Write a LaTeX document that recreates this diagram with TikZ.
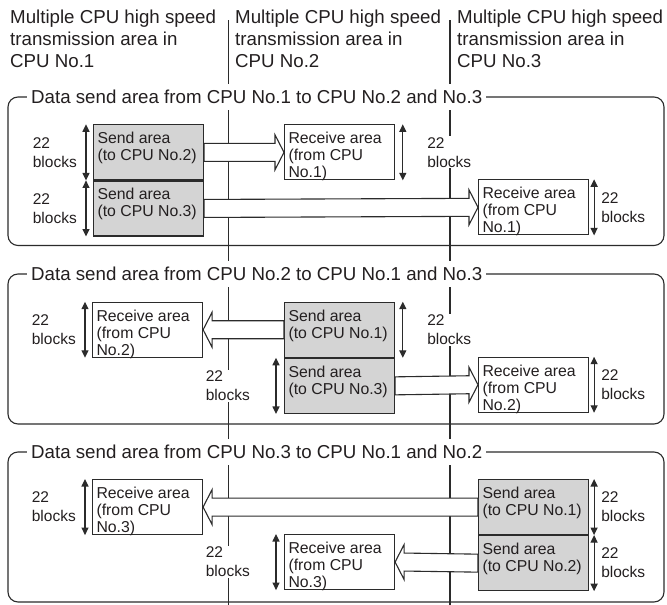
\documentclass[tikz,border=0pt]{standalone}
\usepackage{fontspec}
\setmainfont{Liberation Sans}
\usetikzlibrary{arrows.meta, positioning, calc}
\definecolor{lineDark}{HTML}{2B2B2B}
\definecolor{sendGray}{HTML}{D4D4D4}
\definecolor{textDark}{HTML}{231F20}
\newcommand{\areaText}[1]{\parbox[c][55pt][t]{102pt}{\raggedright\rule{0pt}{19pt}#1}}
\newcommand{\spanL}[2][7pt]{\draw[arrowSpan] ([xshift=-#1]#2.north west) -- ([xshift=-#1]#2.south west);}
\newcommand{\spanR}[2][5pt]{\draw[arrowSpan] ([xshift=#1]#2.north east) -- ([xshift=#1]#2.south east);}
% block arrow: from, to, head back offset (-9 right, 9 left)
\newcommand{\blockArrow}[3]{\draw[arrowBlock] ($(#1)+(0,9)$) -- ($(#2)+(#3,9)$)
  -- ($(#2)+(#3,17.5)$) -- (#2) -- ($(#2)+(#3,-17.5)$) -- ($(#2)+(#3,-9)$)
  -- ($(#1)+(0,-9)$) -- cycle;}
\tikzset{
  divLine/.style={lineDark, line width=1.2pt},
  groupFrame/.style={lineDark, line width=1.1pt, rounded corners=10pt},
  groupTitle/.style={fill=white, anchor=base west, inner xsep=4pt, inner ysep=6pt,
                     font=\fontsize{18.7}{21.7}\selectfont},
  headText/.style={anchor=north west, align=left, inner sep=0pt,
                   font=\fontsize{18.7}{21.7}\selectfont},
  boxSend/.style={rectangle, draw=lineDark, fill=sendGray, line width=1.1pt,
                  inner xsep=4pt, inner ysep=0pt, minimum width=110pt,
                  minimum height=55pt, anchor=north west,
                  font=\fontsize{15.8}{17}\selectfont},
  boxRecv/.style={boxSend, fill=white},
  arrowBlock/.style={draw=lineDark, fill=white, line width=1.1pt, line join=miter},
  arrowSpan/.style={{Triangle[length=7.5pt,width=7pt]}-{Triangle[length=7.5pt,width=7pt]},
                    lineDark, line width=1.2pt},
  blockLabel/.style={align=left, fill=white, inner sep=1pt,
                     font=\fontsize{15.5}{19}\selectfont},
}
\begin{document}
\begin{tikzpicture}[x=1pt, y=-1pt, text=textDark]
  \useasboundingbox (0,0) rectangle (667,605);
  % dividers between CPUs
  \draw[divLine] (228.5,20) -- (228.5,605);
  \draw[divLine] (450,20) -- (450,605);
  \node[headText] (hd1) at (10,10) {Multiple CPU high speed\\transmission area in\\CPU No.1};
  \node[headText] (hd2) at (235,10) {Multiple CPU high speed\\transmission area in\\CPU No.2};
  \node[headText] (hd3) at (457,10) {Multiple CPU high speed\\transmission area in\\CPU No.3};

  % group frames
  \draw[groupFrame] (8,97) rectangle (664,245.5);
  \draw[groupFrame] (8,274) rectangle (664,424);
  \draw[groupFrame] (8,452) rectangle (664,602);
  \node[groupTitle] (gt1) at (27,103.7) {Data send area from CPU No.1 to CPU No.2 and No.3};
  \node[groupTitle] (gt2) at (27,280.7) {Data send area from CPU No.2 to CPU No.1 and No.3};
  \node[groupTitle] (gt3) at (27,458.7) {Data send area from CPU No.3 to CPU No.1 and No.2};

  % CPU No.1 sends
  \node[boxSend] (s1to2) at (93,124.3) {\areaText{Send area\\(to CPU No.2)}};
  \node[boxSend, below=0pt of s1to2] (s1to3) {\areaText{Send area\\(to CPU No.3)}};
  \node[boxRecv] (r2from1) at (284,124.3) {\areaText{Receive area\\(from CPU\\No.1)}};
  \node[boxRecv] (r3from1) at (478,179.3) {\areaText{Receive area\\(from CPU\\No.1)}};
  \blockArrow{s1to2.east}{r2from1.west}{-9}
  \blockArrow{s1to3.east}{r3from1.west}{-9}

  % CPU No.2 sends
  \node[boxRecv] (r1from2) at (92,301.7) {\areaText{Receive area\\(from CPU\\No.2)}};
  \node[boxSend] (s2to1) at (284,301.7) {\areaText{Send area\\(to CPU No.1)}};
  \node[boxSend, below=0pt of s2to1] (s2to3) {\areaText{Send area\\(to CPU No.3)}};
  \node[boxRecv] (r3from2) at (478,356.7) {\areaText{Receive area\\(from CPU\\No.2)}};
  \blockArrow{s2to1.west}{r1from2.east}{9}
  \blockArrow{s2to3.east}{r3from2.west}{-9}

  % CPU No.3 sends
  \node[boxRecv] (r1from3) at (92,479) {\areaText{Receive area\\(from CPU\\No.3)}};
  \node[boxSend] (s3to1) at (478,479) {\areaText{Send area\\(to CPU No.1)}};
  \node[boxSend, below=0pt of s3to1] (s3to2) {\areaText{Send area\\(to CPU No.2)}};
  \node[boxRecv] (r2from3) at (284,534) {\areaText{Receive area\\(from CPU\\No.3)}};
  \blockArrow{s3to1.west}{r1from3.east}{9}
  \blockArrow{s3to2.west}{r2from3.east}{9}

  % block sizes
  \spanL{s1to2} \spanL{s1to3} \spanR[7.7pt]{r2from1} \spanR{r3from1}
  \spanL{r1from2} \spanR[7.7pt]{s2to1} \spanL[8pt]{s2to3} \spanR{r3from2}
  \spanL{r1from3} \spanL[8pt]{r2from3} \spanR{s3to1} \spanR{s3to2}
  \node[blockLabel, left=15pt of s1to2] (n1) {22\\blocks};
  \node[blockLabel, left=15pt of s1to3] (n2) {22\\blocks};
  \node[blockLabel, right=31pt of r2from1] (n3) {22\\blocks};
  \node[blockLabel, right=11pt of r3from1] (n4) {22\\blocks};
  \node[blockLabel, left=15pt of r1from2] (n5) {22\\blocks};
  \node[blockLabel, right=31pt of s2to1] (n6) {22\\blocks};
  \node[blockLabel, left=33pt of s2to3] (n7) {22\\blocks};
  \node[blockLabel, right=11pt of r3from2] (n8) {22\\blocks};
  \node[blockLabel, left=15pt of r1from3] (n9) {22\\blocks};
  \node[blockLabel, left=33pt of r2from3] (n10) {22\\blocks};
  \node[blockLabel, right=11pt of s3to1] (n11) {22\\blocks};
  \node[blockLabel, right=11pt of s3to2] (n12) {22\\blocks};
\end{tikzpicture}
\end{document}
